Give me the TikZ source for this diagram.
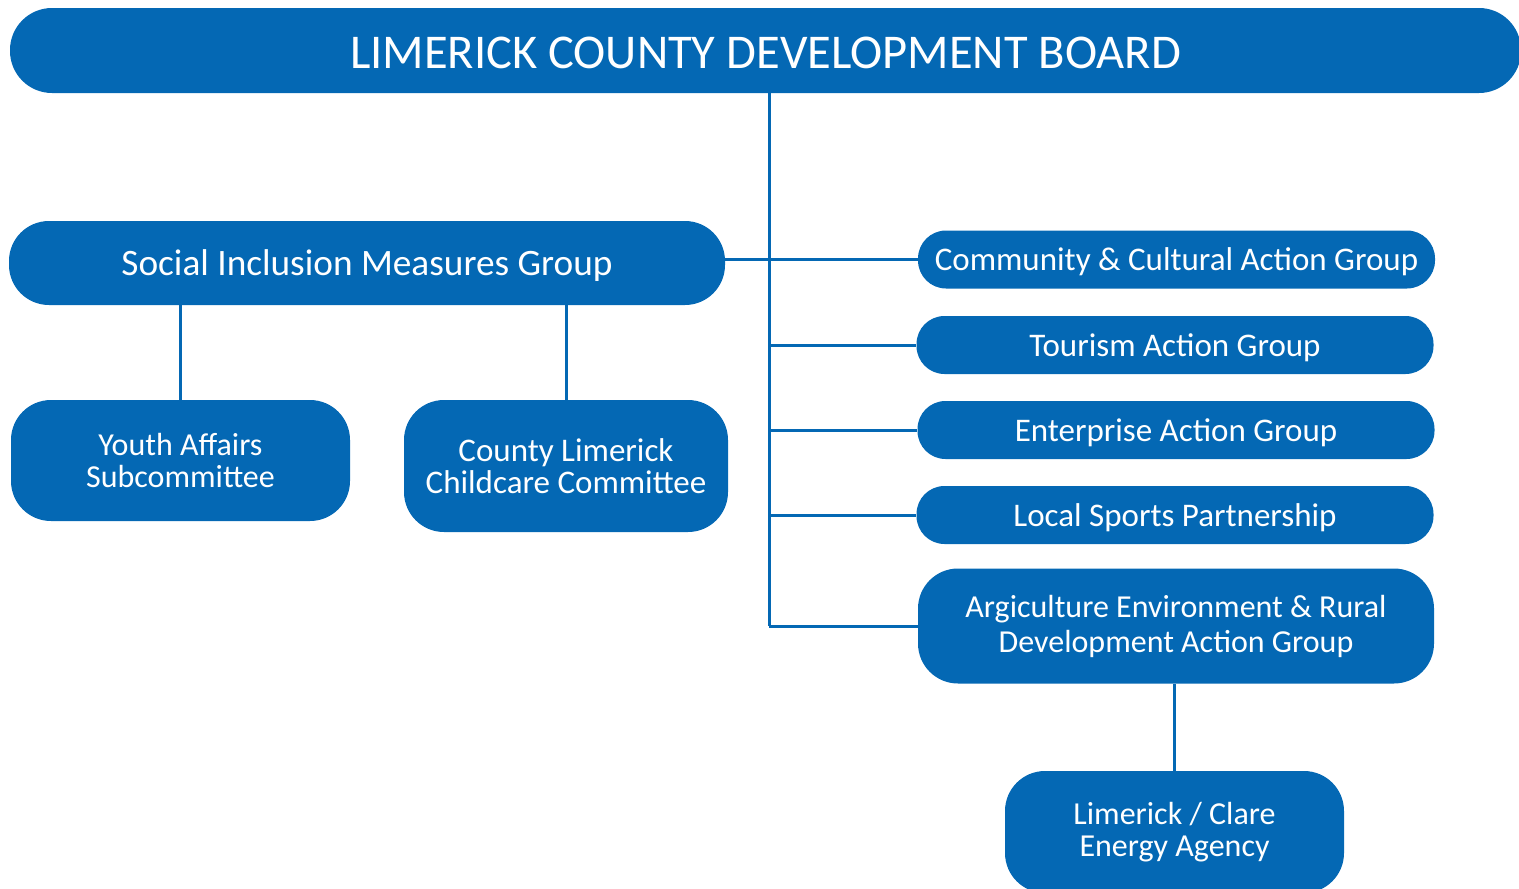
\documentclass[tikz,border=0pt]{standalone}
\usepackage{fontspec}
\setmainfont{Carlito}
\usetikzlibrary{positioning}

\definecolor{boardblue}{RGB}{4,104,180}
\newcommand{\lowertext}[2]{\raisebox{-#1}[\height][\depth]{#2}}

\begin{document}
\begin{tikzpicture}[x=1pt,y=-1pt,
    box/.style={fill=boardblue,text=white,align=center,inner sep=0pt},
    wide/.style={box,minimum width=517pt,minimum height=58pt,rounded corners=28pt,font=\fontsize{33}{36}\selectfont},
    tall/.style={box,rounded corners=40pt,font=\fontsize{32}{32}\selectfont},
    link/.style={draw=boardblue,line width=3pt}]

   \useasboundingbox (0,0) rectangle (1519,889);

   \node[box,minimum width=1511pt,minimum height=85pt,rounded corners=42pt,font=\fontsize{48.5}{52}\selectfont] (board) at (765.5,50.5) {\lowertext{2pt}{LIMERICK COUNTY DEVELOPMENT BOARD}};
   \node[box,minimum width=716pt,minimum height=84pt,rounded corners=40pt,font=\fontsize{37.3}{40}\selectfont] (social) at (367,263) {\lowertext{3pt}{Social Inclusion Measures Group}};

   \node[wide] (community) at (1176.5,259.5) {\lowertext{2pt}{Community \& Cultural Action Group}};
   \node[wide] (tourism) at (1175,345) {\lowertext{3pt}{Tourism Action Group}};
   \node[wide] (enterprise) at (1176,430) {\lowertext{3pt}{Enterprise Action Group}};
   \node[wide] (sports) at (1175,515) {\lowertext{3pt}{Local Sports Partnership}};
   \node[tall,minimum width=516pt,minimum height=115pt,font=\fontsize{32}{35}\selectfont] (agri) at (1176,626) {Argiculture Environment \& Rural\\Development Action Group};
   \node[tall,minimum width=339pt,minimum height=122pt] (energy) at (1174.5,832) {Limerick / Clare\\Energy Agency};

   \node[tall,minimum width=339pt,minimum height=121pt] (youth) at (180.5,460.5) {Youth Affairs\\Subcommittee};
   \node[tall,minimum width=324pt,minimum height=132pt,font=\fontsize{33}{32}\selectfont] (childcare) at (566,466) {County Limerick\\Childcare Committee};

   \coordinate (trunk) at (769,626);

   % main trunk and branches
   \draw[link] (board.south -| trunk) -- (trunk);
   \draw[link] (community.west -| social.east) -- (community.west);
   \draw[link] (tourism.west) -- (tourism.west -| trunk);
   \draw[link] (enterprise.west) -- (enterprise.west -| trunk);
   \draw[link] (sports.west) -- (sports.west -| trunk);
   \draw[link] (agri.west) -- (trunk);
   \draw[link] (energy.north) -- (energy.north |- agri.south);

   \draw[link] (youth.north) -- (youth.north |- social.south);
   \draw[link] (childcare.north) -- (childcare.north |- social.south);

\end{tikzpicture}
\end{document}
